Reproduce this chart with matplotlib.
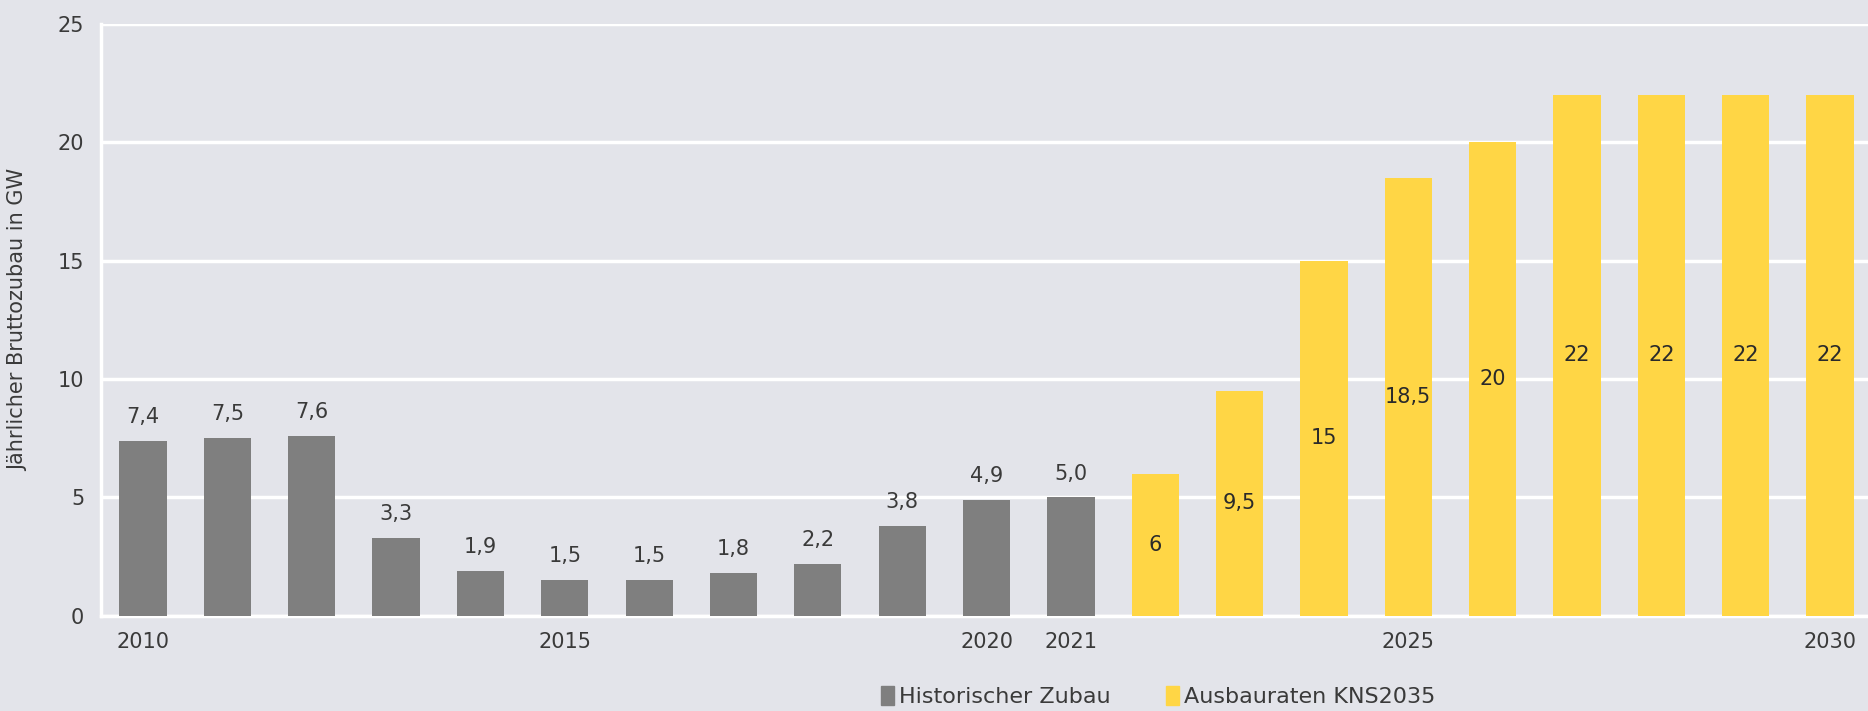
import matplotlib.pyplot as plt
from matplotlib.patches import Patch

# data
hist_years = [2010, 2011, 2012, 2013, 2014, 2015, 2016, 2017, 2018, 2019, 2020, 2021]
hist_values = [7.4, 7.5, 7.6, 3.3, 1.9, 1.5, 1.5, 1.8, 2.2, 3.8, 4.9, 5.0]
plan_years = [2022, 2023, 2024, 2025, 2026, 2027, 2028, 2029, 2030]
plan_values = [6, 9.5, 15, 18.5, 20, 22, 22, 22, 22]
xtick_years = [2010, 2015, 2020, 2021, 2025, 2030]

bg = "#e3e4ea"
grey = "#7f7f7f"
yellow = "#ffd645"
txt = "#3a3a3a"

plt.rcParams['font.family'] = ['Liberation Sans Narrow', 'DejaVu Sans']

fig = plt.figure(figsize=(18.68, 7.11), dpi=100, facecolor=bg)
ax = fig.add_axes([0.054, 0.134, 0.946, 0.832], facecolor=bg)

ax.bar(hist_years, hist_values, width=0.56, color=grey, zorder=3)
ax.bar(plan_years, plan_values, width=0.56, color=yellow, zorder=3)

# labels above the grey bars
for x, v in zip(hist_years, hist_values):
    ax.annotate(f"{v:.1f}".replace(".", ","), (x, v), xytext=(0, 10),
                textcoords="offset points", ha="center", va="bottom",
                fontsize=15, color=txt)

# labels inside the yellow bars
for x, v in zip(plan_years, plan_values):
    s = f"{v:g}".replace(".", ",")
    ax.text(x, v / 2, s, ha="center", va="center", fontsize=15, color="#2a2a2a", zorder=4)

ax.set_xlim(2009.5, 2030.45)
ax.set_ylim(0, 25)
ax.set_yticks([0, 5, 10, 15, 20, 25])
ax.set_xticks(xtick_years)
ax.set_xticklabels([str(y) for y in xtick_years])
ax.tick_params(axis="both", length=0, labelsize=15, labelcolor=txt)
ax.tick_params(axis="y", pad=12)
ax.tick_params(axis="x", pad=12)

ax.grid(axis="y", color="white", linewidth=2.5, zorder=1)
for s in ["top", "right"]:
    ax.spines[s].set_visible(False)
for s in ["left", "bottom"]:
    ax.spines[s].set_color("white")
    ax.spines[s].set_linewidth(2.5)
    ax.spines[s].set_zorder(2)

ax.set_ylabel("Jährlicher Bruttozubau in GW", fontsize=15, color=txt, labelpad=10)
ax.yaxis.set_label_coords(-0.041, 0.5)

handles = [Patch(color=grey, label="Historischer Zubau"),
           Patch(color=yellow, label="Ausbauraten KNS2035")]
fig.legend(handles=handles, loc="center", bbox_to_anchor=(0.62, 0.02), ncol=2,
           frameon=False, fontsize=16, handlelength=0.6, handleheight=0.9,
           handletextpad=0.2, columnspacing=2.5, labelcolor=txt)

fig.savefig("out.png", dpi=100, facecolor=bg)
